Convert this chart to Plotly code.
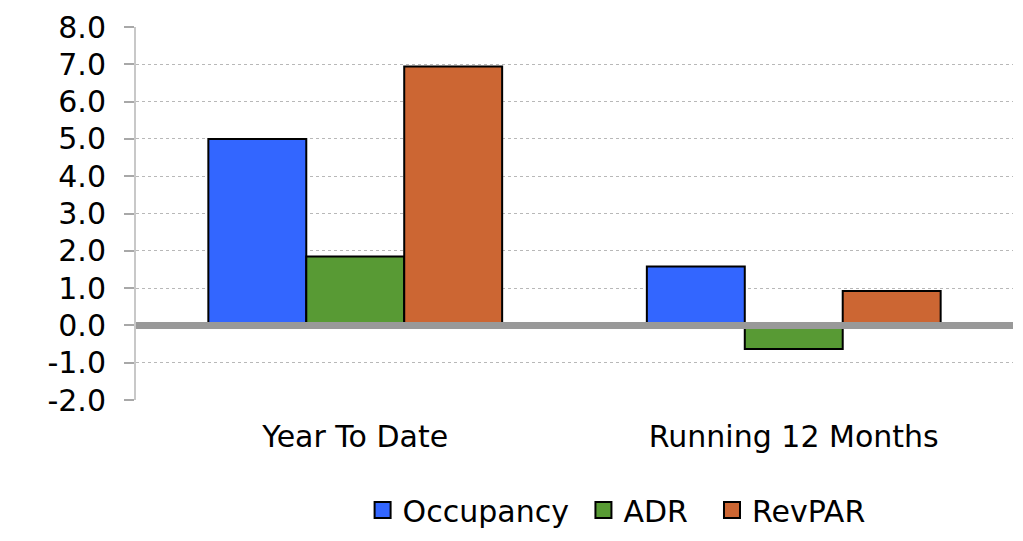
import plotly.graph_objects as go

categories = ["Year To Date", "Running 12 Months"]
series_names = ["Occupancy", "ADR", "RevPAR"]
legend_labels = ["Occupancy\u00a0", "ADR\u00a0\u00a0", "RevPAR"]
occupancy = [5.0, 1.58]
adr = [1.85, -0.63]
revpar = [6.94, 0.92]
colors = ["#3366FF", "#589A34", "#CC6633"]
y_ticks = [-2, -1, 0, 1, 2, 3, 4, 5, 6, 7, 8]
y_tick_labels = ["-2.0", "-1.0", "0.0", "1.0", "2.0", "3.0", "4.0", "5.0", "6.0", "7.0", "8.0"]

FONT = "DejaVu Sans"
FS = 30
values = [occupancy, adr, revpar]

fig = go.Figure()
for name, vals, col in zip(series_names, values, colors):
    fig.add_trace(go.Bar(
        x=categories, y=vals, name=name, showlegend=False,
        marker=dict(color=col, line=dict(color="#000000", width=2)),
    ))
# legend proxies with square symbols
for label, col in zip(legend_labels, colors):
    fig.add_trace(go.Scatter(
        x=[None], y=[None], mode="markers", name=label,
        marker=dict(symbol="square", size=16, color=col,
                    line=dict(color="#000000", width=2)),
    ))

fig.add_shape(type="line", xref="paper", yref="y", x0=0, x1=1, y0=0, y1=0,
              line=dict(color="#999999", width=7), layer="above")

fig.update_layout(
    width=1023, height=541,
    paper_bgcolor="white", plot_bgcolor="white",
    margin=dict(l=128, r=18, t=19, b=149),
    barmode="group", bargap=0.33, bargroupgap=0,
    font=dict(family=FONT, size=FS, color="#000000"),
    showlegend=True,
    legend=dict(orientation="h", x=0.548, xanchor="center", y=-0.295,
                yanchor="middle", font=dict(family=FONT, size=FS),
                bgcolor="rgba(0,0,0,0)"),
    xaxis=dict(type="category", showline=False, showgrid=False, ticks="",
               automargin=False,
               ticklabelstandoff=16, tickfont=dict(family=FONT, size=FS)),
    yaxis=dict(range=[-2, 8], tickvals=y_ticks, ticktext=y_tick_labels,
               automargin=False,
               showgrid=True, gridcolor="#b8b8b8", griddash="dot", gridwidth=1,
               showline=True, linecolor="#c8c8c8", linewidth=2,
               ticks="outside", ticklen=10, tickcolor="#a8a8a8", tickwidth=1.5,
               zeroline=False, ticklabelstandoff=12,
               tickfont=dict(family=FONT, size=FS)),
)

fig.write_html("out.html")
